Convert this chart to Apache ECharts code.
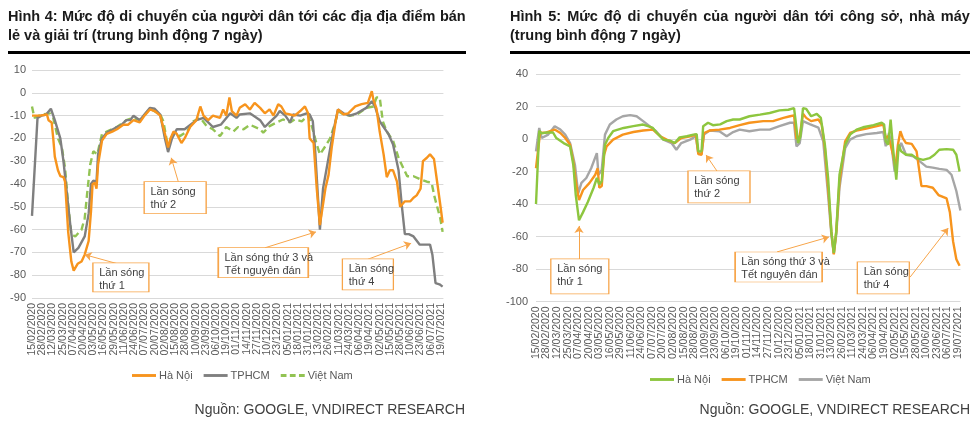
<!DOCTYPE html>
<html><head><meta charset="utf-8">
<script src="https://cdn.jsdelivr.net/npm/echarts@6/dist/echarts.min.js"></script>
<style>
html,body{margin:0;padding:0;background:#fff;width:979px;height:425px;overflow:hidden;font-family:"Liberation Sans",Arial,sans-serif;}
.t{position:absolute;font-weight:bold;font-size:14.5px;color:#1a1a1a;white-space:nowrap;transform-origin:0 0;}
.ul{position:absolute;height:3px;background:#000;}
.src{position:absolute;font-size:14px;color:#404040;white-space:nowrap;}
#c1{position:absolute;left:0;top:0;width:490px;height:425px;}
#c2{position:absolute;left:490px;top:0;width:489px;height:425px;}
</style></head>
<body>
<div id="c1"></div><div id="c2"></div>
<div class="t fit" data-w="458" style="left:8px;top:8px;">Hình 4: Mức độ di chuyển của người dân tới các địa địa điểm bán</div>
<div class="t" style="left:8px;top:27px;">lẻ và giải trí (trung bình động 7 ngày)</div>
<div class="ul" style="left:8px;top:51px;width:458px;"></div>
<div class="t fit" data-w="460" style="left:510px;top:8px;">Hình 5: Mức độ di chuyển của người dân tới công sở, nhà máy</div>
<div class="t" style="left:510px;top:27px;">(trung bình động 7 ngày)</div>
<div class="ul" style="left:510px;top:51px;width:460px;"></div>
<div class="src" style="right:514px;top:401px;">Nguồn: GOOGLE, VNDIRECT RESEARCH</div>
<div class="src" style="right:9px;top:401px;">Nguồn: GOOGLE, VNDIRECT RESEARCH</div>
<script>
// fit justified title lines to their underline width
document.querySelectorAll('.fit').forEach(el => {
  const target = +el.dataset.w;
  const w = el.scrollWidth;
  if (w > target) { el.style.transform = 'scaleX(' + (target / w) + ')'; }
  else {
    const words = el.textContent.split(' ').length - 1;
    el.style.wordSpacing = ((target - w) / words) + 'px';
  }
});

// tick labels (every 13 days from 15/02/2020); x values are day offsets
const dateTicks = ['15/02/2020','28/02/2020','12/03/2020','25/03/2020','07/04/2020','20/04/2020','03/05/2020','16/05/2020','29/05/2020','11/06/2020','24/06/2020','07/07/2020','20/07/2020','02/08/2020','15/08/2020','28/08/2020','10/09/2020','23/09/2020','06/10/2020','19/10/2020','01/11/2020','14/11/2020','27/11/2020','10/12/2020','23/12/2020','05/01/2021','18/01/2021','31/01/2021','13/02/2021','26/02/2021','11/03/2021','24/03/2021','06/04/2021','19/04/2021','02/05/2021','15/05/2021','28/05/2021','10/06/2021','23/06/2021','06/07/2021','19/07/2021'];
const seriesNames = ['Hà Nội','TPHCM','Việt Nam'];

// Chart 1: retail & recreation
const retailHaNoi = [[0,-10],[4,-10],[10,-10],[19,-9.5],[21,-12],[25,-13],[27,-20],[29,-28],[33,-34],[36,-36.5],[40,-37],[42,-39],[46,-61],[50,-74],[53,-78],[58,-75],[63,-74],[67,-71],[72,-65],[75,-52],[77,-40],[80,-39.5],[82,-42],[84,-31.5],[89,-21],[95,-18],[102,-17],[108,-16],[116,-14],[122,-14],[129,-12],[137,-13],[143,-10],[150,-7.3],[156,-8],[163,-10],[169,-18],[173,-24],[176,-20],[180,-17],[184,-18],[190,-22],[194,-20],[201,-15],[209,-12],[214,-6],[218,-10],[224,-12],[230,-10],[239,-11],[243,-7.3],[247,-10],[251,-2],[254,-8],[260,-10],[264,-6.6],[271,-5],[277,-7.3],[283,-4.4],[290,-6.6],[296,-9],[302,-7.3],[307,-10],[313,-5],[317,-6],[322,-9],[328,-9.5],[334,-10],[341,-8],[347,-6],[351,-9],[353,-20],[358,-22],[362,-42],[366,-58],[373,-42],[377,-36],[381,-24],[386,-12.5],[389,-7.3],[396,-9.5],[402,-9],[411,-6],[419,-5],[427,-4.4],[432,0.7],[434,-3],[438,-7],[442,-17],[447,-27],[451,-37],[455,-34],[459,-34],[464,-39],[468,-50],[474,-47.6],[481,-47.6],[485,-46],[489,-45],[494,-42],[497,-30],[502,-28.5],[506,-27],[511,-29],[515,-39],[519,-49],[522,-57]];
const retailHCM = [[0,-54],[7,-11],[12,-10],[18,-9.5],[24,-7],[29,-12],[36,-20],[40,-30],[44,-43],[48,-56],[53,-70],[59,-68],[67,-63],[72,-53],[75,-40],[78,-38.5],[82,-39],[84,-27],[89,-20],[95,-17.5],[108,-15],[114,-14],[120,-12],[125,-12],[129,-10],[137,-12],[150,-6.6],[156,-7],[163,-9.5],[169,-20],[173,-26],[178,-20],[184,-16],[194,-16],[209,-12],[218,-11],[224,-13],[230,-15],[240,-14],[252,-9],[260,-11],[264,-9.5],[277,-9],[290,-12],[296,-15],[302,-13],[311,-10],[315,-8],[322,-10],[328,-13],[332,-9.5],[341,-10],[349,-9],[353,-9.5],[357,-12.5],[360,-25.6],[366,-60],[370,-42],[377,-28.5],[383,-17],[389,-7.3],[396,-9],[404,-10],[413,-9],[425,-6.6],[432,-3.7],[436,-6],[442,-12.5],[447,-15],[453,-18],[459,-22.7],[466,-34],[470,-49],[474,-62],[479,-62],[485,-63],[493,-66.6],[506,-66.6],[509,-71],[513,-83.5],[518,-84],[522,-85]];
const retailVietNam = [[0,-6],[3,-11],[9,-10],[14,-9.5],[23,-9],[27,-11],[33,-20],[38,-24],[42,-33],[46,-49],[50,-62],[55,-63],[63,-60],[67,-55],[70,-44.6],[74,-31.5],[78,-25.6],[83,-27],[89,-18],[95,-17],[108,-15],[120,-12],[129,-11],[137,-12],[150,-7],[163,-9.5],[167,-12.5],[173,-24],[180,-17.5],[188,-19],[197,-17],[205,-12.5],[214,-11],[222,-14.6],[230,-16],[239,-19],[247,-15],[256,-17],[262,-15],[269,-16],[277,-14],[290,-16],[294,-17.5],[302,-14.6],[311,-13],[319,-11.7],[328,-13],[334,-11.7],[343,-12.5],[351,-10],[356,-15],[362,-22.7],[366,-27],[373,-23.4],[379,-20],[386,-12.5],[389,-8],[396,-9.5],[404,-10],[413,-9.5],[425,-6.6],[434,-6],[438,-2],[442,-2],[446,-12.5],[451,-17],[459,-21],[466,-28.5],[472,-33],[477,-36.6],[485,-36.6],[494,-38],[502,-39],[508,-39.5],[512,-46],[519,-55],[522,-61]];

// Chart 2: workplaces
const workHaNoi = [[0,-40],[4,5],[7,3.5],[13,4],[21,4],[25,0.6],[34,-2.5],[42,-4.5],[46,-16],[49,-34.5],[53,-50],[58,-45],[64,-38.6],[71,-30],[75,-24],[78,-28],[81,-26],[83,-14],[85,-3.5],[89,0.6],[95,4.8],[108,6.8],[120,7.9],[132,8.9],[138,7.9],[144,6.8],[149,3.7],[157,-0.4],[165,-1],[171,-2.5],[177,1],[186,1.7],[194,2.7],[198,3],[200,-7.6],[204,-7.6],[206,7.9],[212,10],[218,8.5],[227,9],[235,11],[243,12],[251,12],[263,14],[276,15],[288,16],[300,17.6],[311,18],[318,19],[320,11],[323,-2.5],[326,2],[329,19],[333,18.5],[339,14],[346,15.5],[351,13],[356,-3.5],[360,-24],[364,-57],[367,-70],[370,-57],[374,-22],[381,-3.5],[387,2.7],[395,5.8],[403,7.2],[416,8.5],[426,10],[429,9],[431,-1.4],[434,-3.5],[437,12],[440,-5.6],[444,-25],[447,-3.5],[450,-7.6],[456,-9.7],[463,-9.7],[469,-11.8],[477,-12.8],[485,-11.8],[491,-9.7],[497,-6.6],[506,-6.2],[514,-6.6],[518,-9.7],[522,-20]];
const workHCM = [[0,-18],[5,3.7],[13,4],[23,5.8],[30,3.7],[36,0.6],[42,-3.5],[46,-14],[49,-26],[53,-37.6],[58,-31.4],[66,-27],[73,-22],[76,-18],[78,-30],[81,-29],[84,-9.7],[87,-4.5],[95,-0.4],[107,2.7],[120,4.3],[132,5.2],[144,5.8],[153,1.7],[161,-0.4],[171,-2.5],[179,0.6],[190,1.7],[197,2.7],[200,-9.3],[204,-9.7],[207,3.7],[214,5.2],[226,5.8],[239,6.8],[251,8.5],[263,10],[280,11],[292,11],[305,13],[313,14],[318,14.5],[321,0],[325,2],[329,15.5],[333,13],[339,11],[348,12],[352,9],[356,-5.5],[360,-30],[364,-57],[367,-71],[370,-57],[374,-26],[381,-1.4],[387,3.7],[395,5.2],[407,6.4],[420,7.9],[428,8.9],[431,0.6],[434,1.7],[437,-3.5],[440,-9.7],[443,-18],[446,-3.5],[449,4.8],[452,0.6],[456,-2.5],[463,-3],[469,-7.6],[475,-29],[481,-29],[489,-30],[496,-34.5],[506,-36.6],[510,-45],[514,-63],[518,-74],[522,-78]];
const workVietNam = [[0,-7.6],[4,6.8],[7,0.6],[15,2.7],[23,7.9],[30,5.8],[36,2.7],[42,-2.5],[48,-16],[52,-33.5],[56,-27],[62,-24],[68,-18],[75,-8.7],[77,-22],[81,-19],[85,2.7],[91,8.9],[99,12],[107,14],[116,14.7],[124,14],[132,11],[140,7.9],[148,4.8],[157,-0.4],[167,-2.5],[173,-6.6],[179,-2.5],[190,-0.4],[197,1.7],[200,-8.7],[204,-9.3],[207,2.7],[214,5.2],[226,4.8],[235,1.7],[243,4.3],[251,5.8],[263,4.8],[276,5.8],[288,5.8],[300,7.9],[313,10],[318,10],[321,-4.5],[325,-2.5],[329,11],[338,9],[348,7],[354,-1.4],[360,-34.5],[364,-59],[367,-70.7],[370,-59],[374,-30],[381,-5.6],[387,-0.4],[395,1.7],[407,3],[420,3.7],[428,4.3],[431,-4.5],[435,3.7],[438,-3.5],[442,-20],[446,-7.6],[450,-2.5],[456,-9.7],[465,-10.7],[473,-13.8],[481,-17],[489,-17.6],[497,-18.4],[506,-19],[512,-22],[518,-32],[523,-44]];

// annotation notes: [text, boxCenterDay, boxCenterValue, boxW, boxH, arrowFromDay, arrowFromVal, arrowToDay, arrowToVal]
const retailNotes = [
  ['Lần sóng\nthứ 1', 113, -81, 56, 29, 109, -75, 67, -71],
  ['Lần sóng\nthứ 2', 182, -46, 62, 32, 186, -39, 177, -28.5],
  ['Lần sóng thứ 3 và\nTết nguyên đán', 294, -74.5, 90, 30, 296, -68, 361, -61],
  ['Lần sóng\nthứ 4', 427, -79.6, 51, 31, 427, -73, 482, -66]
];
const workNotes = [
  ['Lần sóng\nthứ 1', 54, -84.6, 58, 35, 53, -74, 53, -53.5],
  ['Lần sóng\nthứ 2', 225.5, -29.5, 62, 32, 223, -19.7, 209.5, -9.8],
  ['Lần sóng thứ 3 và\nTết nguyên đán', 299, -78.8, 87, 30, 297, -69.5, 361, -60.3],
  ['Lần sóng\nthứ 4', 428, -85.5, 52, 32, 461, -85, 508, -54.8]
];

const NOTE_COLOR = '#F7A54A';
const SOLID_ICON = 'path://M0,0h25v3h-25z';
const DASH_ICON = 'path://M0,0h6v3h-6z M9.5,0h6v3h-6z M19,0h6v3h-6z';

function notesMarks(notes){
  return {
    markPoint: {
      silent: true, animation: false,
      data: notes.map(n => ({
        coord: [n[1], n[2]], symbol: 'rect', symbolSize: [n[3], n[4]],
        itemStyle: {color: '#fff', borderColor: NOTE_COLOR, borderWidth: 1},
        label: {show: true, formatter: n[0], position: [7, 4], align: 'left', verticalAlign: 'top',
                color: '#404040', fontSize: 11, lineHeight: 13, fontFamily: 'Liberation Sans, Arial'}
      }))
    },
    markLine: {
      silent: true, animation: false, symbol: ['none', 'arrow'], symbolSize: 7,
      label: {show: false},
      lineStyle: {color: NOTE_COLOR, width: 1, type: 'solid'},
      data: notes.map(n => [{coord: [n[5], n[6]]}, {coord: [n[7], n[8]]}])
    }
  };
}

function dateAxis(firstOnly, font){
  return {
    type: 'value', min: 0, max: 523, interval: 13, position: 'bottom', offset: 0,
    axisLine: {show: false}, axisTick: {show: false}, splitLine: {show: false},
    axisLabel: {
      rotate: 90, margin: 5, fontSize: 10.5, color: '#595959', fontFamily: font,
      showMinLabel: firstOnly, showMaxLabel: false, hideOverlap: false,
      formatter: v => {
        const k = Math.round(v / 13);
        if (Math.abs(v - k * 13) > 1e-6 || !dateTicks[k]) return '';
        if (firstOnly) return k === 0 ? dateTicks[0] : '';
        return dateTicks[k];
      }
    }
  };
}

function build(el, cfg){
  const ch = echarts.init(document.getElementById(el), null, {renderer: 'canvas'});
  const font = 'Liberation Sans, Arial, sans-serif';
  const series = cfg.data.map((d, i) => Object.assign({
    name: seriesNames[i], type: 'line', data: d, symbol: 'none', showSymbol: false, xAxisIndex: 0,
    lineStyle: {color: cfg.colors[i], width: 2.4, type: cfg.dash[i] ? [7, 4] : 'solid'},
    itemStyle: {color: cfg.colors[i]}, z: 3 - i
  }, i === 0 ? notesMarks(cfg.notes) : {}));
  ch.setOption({
    animation: false,
    textStyle: {fontFamily: font},
    grid: cfg.grid,
    legend: {
      data: seriesNames.map((n, i) => ({name: n, icon: cfg.dash[i] ? DASH_ICON : SOLID_ICON})),
      left: cfg.legendLeft, top: cfg.legendTop, padding: 0, itemWidth: 24, itemHeight: 3, itemGap: 11,
      textStyle: {color: '#595959', fontSize: 11, fontFamily: font, padding: [0, 0, 0, -2]}
    },
    xAxis: [dateAxis(false, font), dateAxis(true, font)],
    yAxis: {
      type: 'value', min: cfg.yMin, max: cfg.yMax, interval: cfg.yInt,
      axisLine: {show: false}, axisTick: {show: false},
      splitLine: {lineStyle: {color: '#d9d9d9', width: 1}},
      axisLabel: {fontSize: 11, color: '#595959', margin: cfg.yMargin, fontFamily: font}
    },
    series: series
  });
}

build('c1', {
  data: [retailHaNoi, retailHCM, retailVietNam],
  colors: ['#F7941D', '#7F7F7F', '#92C353'], dash: [false, false, true],
  notes: retailNotes,
  grid: {left: 32, top: 70, width: 411.4, height: 228},
  yMin: -90, yMax: 10, yInt: 10, yMargin: 6,
  legendLeft: 132, legendTop: 370
});
build('c2', {
  data: [workHaNoi, workHCM, workVietNam],
  colors: ['#8DC63F', '#F7941D', '#A6A6A6'], dash: [false, false, false],
  notes: workNotes,
  grid: {left: 46, top: 74, width: 424.4, height: 227.5},
  yMin: -100, yMax: 40, yInt: 20, yMargin: 8,
  legendLeft: 160, legendTop: 374
});
</script>
</body></html>
